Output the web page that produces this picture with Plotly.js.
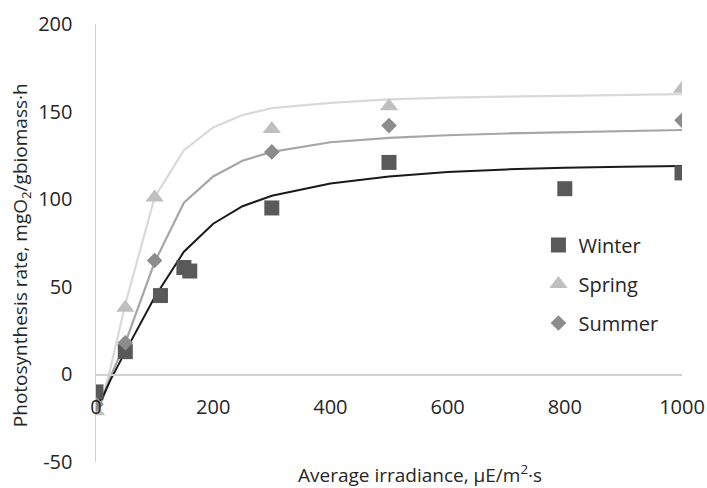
<!DOCTYPE html>
<html>
<head>
<meta charset="utf-8">
<script src="https://cdn.plot.ly/plotly-3.0.1.min.js"></script>
<style>
  html, body { margin: 0; padding: 0; background: #fff; }
  #chart { width: 707px; height: 488px; }
</style>
</head>
<body>
<div id="chart"></div>
<script>
// Measured points
const irrWinter = [0, 50, 110, 150, 160, 300, 500, 800, 1000];
const rateWinter = [-10, 13, 45, 61, 59, 95, 121, 106, 115];
const irrSpring = [0, 50, 100, 300, 500, 1000];
const rateSpring = [-21, 38, 101, 140, 153, 163];
const irrSummer = [0, 50, 100, 300, 500, 1000];
const rateSummer = [-17, 18, 65, 127, 142, 145];

// Fitted curves
const fitX = [0, 10, 25, 50, 100, 150, 200, 250, 300, 400, 500, 600, 700, 800, 900, 1000];
const fitWinter = [-16, -14, -3, 13, 44, 70, 86, 96, 102, 109, 113, 115.5, 117, 118, 118.5, 119];
const fitSpring = [-18, -15, 4, 40, 101, 128, 141, 148, 152, 155, 157, 158, 158.5, 159, 159.5, 160];
const fitSummer = [-17, -15, -1, 18, 64, 98, 113, 122, 127, 132.5, 135, 136.5, 137.5, 138.3, 139, 139.5];

const xTicks = [0, 200, 400, 600, 800, 1000];
const yTicks = [-50, 0, 50, 100, 150, 200];

const FONT = '"Open Sans", "DejaVu Sans", sans-serif';
const TXT = '#262626';

const traces = [
  {x: fitX, y: fitSpring, mode: 'lines', line: {color: '#d9d9d9', width: 2.2}, showlegend: false, hoverinfo: 'skip'},
  {x: fitX, y: fitSummer, mode: 'lines', line: {color: '#a6a6a6', width: 2.2}, showlegend: false, hoverinfo: 'skip'},
  {x: fitX, y: fitWinter, mode: 'lines', line: {color: '#1a1a1a', width: 2}, showlegend: false, hoverinfo: 'skip'},
  {x: irrWinter, y: rateWinter, mode: 'markers', name: 'Winter', legendgroup: 'w',
   marker: {symbol: 'square', size: 15, color: '#595959'}},
  {x: irrSpring, y: rateSpring, mode: 'markers', name: 'Spring', legendgroup: 'sp',
   marker: {symbol: 'triangle-up', size: 16, color: '#bfbfbf'}},
  {x: irrSummer, y: rateSummer, mode: 'markers', name: 'Summer', legendgroup: 'su',
   marker: {symbol: 'diamond', size: 12, color: '#8c8c8c'}}
];

const layout = {
  width: 707, height: 488,
  margin: {l: 96, r: 25, t: 24, b: 26},
  paper_bgcolor: '#fff', plot_bgcolor: '#fff',
  font: {family: FONT, size: 19, color: TXT},
  showlegend: true,
  legend: {x: 0.755, y: 0.54, xanchor: 'left', yanchor: 'top', bgcolor: 'rgba(0,0,0,0)',
           font: {family: FONT, size: 20, color: TXT}, tracegroupgap: 10, traceorder: 'grouped'},
  xaxis: {
    range: [0, 1000], tickvals: xTicks, ticktext: xTicks.map(String),
    anchor: 'free', position: 0.2,
    showgrid: false, zeroline: false, showline: true, linecolor: '#d0d0d0', linewidth: 1.5,
    ticks: '', ticklabelstandoff: 14, tickfont: {family: FONT, size: 20, color: TXT}
  },
  yaxis: {
    range: [-50, 200], tickvals: yTicks, ticktext: yTicks.map(String),
    showgrid: false, zeroline: false, showline: true, linecolor: '#d0d0d0', linewidth: 1.5,
    ticks: '', ticklabelstandoff: 18, tickfont: {family: FONT, size: 20, color: TXT}
  },
  annotations: [
    {text: 'Average irradiance, µE/m<sup>2</sup>·s', xref: 'paper', yref: 'paper',
     x: 0.553, y: 0, yshift: -12, xanchor: 'center', yanchor: 'middle', showarrow: false,
     font: {family: FONT, size: 19, color: TXT}},
    {text: 'Photosynthesis rate, mgO<sub>2</sub>/gbiomass·h', xref: 'paper', yref: 'paper',
     x: 0, xshift: -75, y: 0.495, yshift: -10, xanchor: 'center', yanchor: 'middle', textangle: -90, showarrow: false,
     font: {family: FONT, size: 19, color: TXT}}
  ]
};

Plotly.newPlot('chart', traces, layout, {displayModeBar: false, staticPlot: true});
</script>
</body>
</html>
